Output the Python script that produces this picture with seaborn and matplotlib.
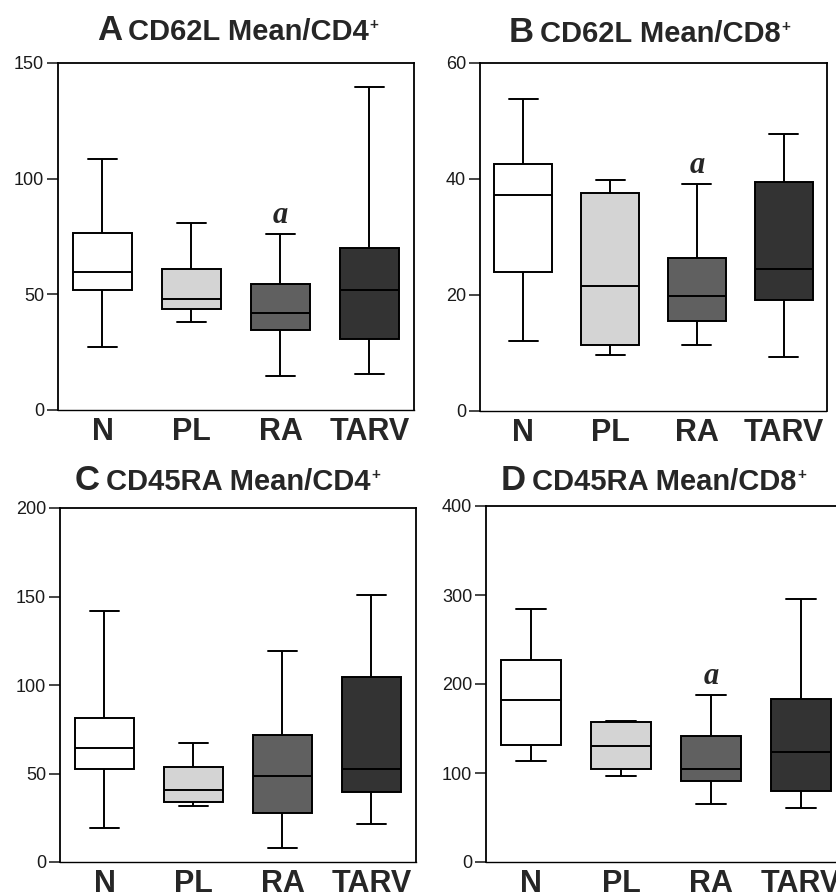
import matplotlib
matplotlib.use("Agg")
import matplotlib.pyplot as plt
import pandas as pd
import seaborn as sns

# Groups and their box fills
groups = ["N", "PL", "RA", "TARV"]
box_colors = ["#ffffff", "#d4d4d4", "#606060", "#333333"]

# Five-number summaries per group: [min, Q1, median, Q3, max]
cd62l_cd4 = [
    [27.1, 51.7, 59.7, 76.4, 108.5],
    [38.2, 43.7, 47.9, 61.1, 81.0],
    [14.7, 34.6, 42.1, 54.3, 76.2],
    [15.4, 30.7, 51.9, 69.9, 139.8],
]
cd62l_cd8 = [
    [12.0, 23.9, 37.2, 42.5, 53.8],
    [9.6, 11.3, 21.5, 37.5, 39.8],
    [11.3, 15.5, 19.9, 26.3, 39.2],
    [9.3, 19.1, 24.4, 39.4, 47.8],
]
cd45ra_cd4 = [
    [19.0, 52.7, 64.2, 81.5, 142.0],
    [31.8, 33.7, 40.5, 53.6, 67.5],
    [8.1, 27.8, 48.4, 71.7, 119.1],
    [21.3, 39.7, 52.7, 104.8, 150.9],
]
cd45ra_cd8 = [
    [113.9, 131.5, 182.4, 227.0, 283.9],
    [97.0, 104.9, 130.3, 156.9, 158.4],
    [64.8, 91.0, 104.1, 141.6, 188.0],
    [60.3, 79.8, 123.2, 183.5, 295.1],
]

# Panel letters, titles, y ranges and ticks
letters = ["A", "B", "C", "D"]
titles = ["CD62L Mean/CD4", "CD62L Mean/CD8", "CD45RA Mean/CD4", "CD45RA Mean/CD8"]
ymax = [150, 60, 200, 400]
ysteps = [50, 20, 50, 100]
# groups flagged with "a" in each panel
flagged = [["RA"], ["RA"], [], ["RA"]]

panels = [cd62l_cd4, cd62l_cd8, cd45ra_cd4, cd45ra_cd8]

sns.set_style("white")
plt.rcParams["font.family"] = ["Liberation Sans", "DejaVu Sans"]

W, H = 837, 892
fig = plt.figure(figsize=(W / 100, H / 100), dpi=100)

# axes boxes in pixels: left, bottom (from top), width, height
boxes_px = [
    (58, 410, 356, 347),
    (480, 411, 347, 348),
    (60, 862, 356, 354),
    (486, 862, 360, 356),
]
# title anchor (left of the letter, baseline) in pixels from top-left
title_px = [(97, 40), (509, 41.5), (75, 490), (501, 490)]


def long_table(summary):
    rows = []
    for g, vals in zip(groups, summary):
        for v in vals:
            rows.append({"group": g, "value": v})
    return pd.DataFrame(rows)


for i, summary in enumerate(panels):
    l, b, w, h = boxes_px[i]
    ax = fig.add_axes([l / W, 1 - b / H, w / W, h / H])
    df = long_table(summary)
    sns.boxplot(
        data=df, x="group", y="value", hue="group",
        order=groups, hue_order=groups, palette=box_colors,
        whis=(0, 100), width=0.67, linecolor="black", linewidth=1.4,
        showfliers=False, legend=False, ax=ax,
    )
    ax.set_xlim(-0.5, 3.5)
    ax.set_ylim(0, ymax[i])
    ax.set_yticks(list(range(0, ymax[i] + 1, ysteps[i])))
    ax.set_xlabel("")
    ax.set_ylabel("")
    ax.tick_params(axis="y", direction="out", length=8, width=1.2,
                   labelsize=13, labelcolor="#1a1a1a", pad=2, left=True)
    ax.tick_params(axis="x", length=0, labelsize=22, pad=5)
    for lab in ax.get_xticklabels():
        lab.set_fontweight("bold")
    for name, sp in ax.spines.items():
        sp.set_color("black")
        sp.set_linewidth(1.3)
    ax.spines["bottom"].set_linestyle((0, (1, 1)))
    ax.spines["bottom"].set_linewidth(1.0)

    # significance marks above the upper whisker
    for g in flagged[i]:
        k = groups.index(g)
        ax.annotate("a", xy=(k, summary[k][4]), xytext=(0, 8),
                    textcoords="offset points", ha="center", va="baseline",
                    fontsize=22, fontstyle="italic", fontweight="bold",
                    family=["Liberation Serif", "DejaVu Serif"])

# titles: big letter, bold label, raised plus sign
renderer = fig.canvas.get_renderer()
for i in range(4):
    x0, y0 = title_px[i]
    t1 = fig.text(x0 / W, 1 - y0 / H, letters[i], fontsize=25,
                  fontweight="bold", ha="left", va="baseline")
    e1 = t1.get_window_extent(renderer)
    x1 = e1.x1 + 6
    t2 = fig.text(x1 / W, 1 - y0 / H, titles[i], fontsize=21,
                  fontweight="bold", ha="left", va="baseline")
    e2 = t2.get_window_extent(renderer)
    fig.text((e2.x1 + 0.5) / W, 1 - (y0 - 11) / H, "+", fontsize=11,
             fontweight="bold", ha="left", va="baseline")

fig.savefig("out.png", dpi=100)
